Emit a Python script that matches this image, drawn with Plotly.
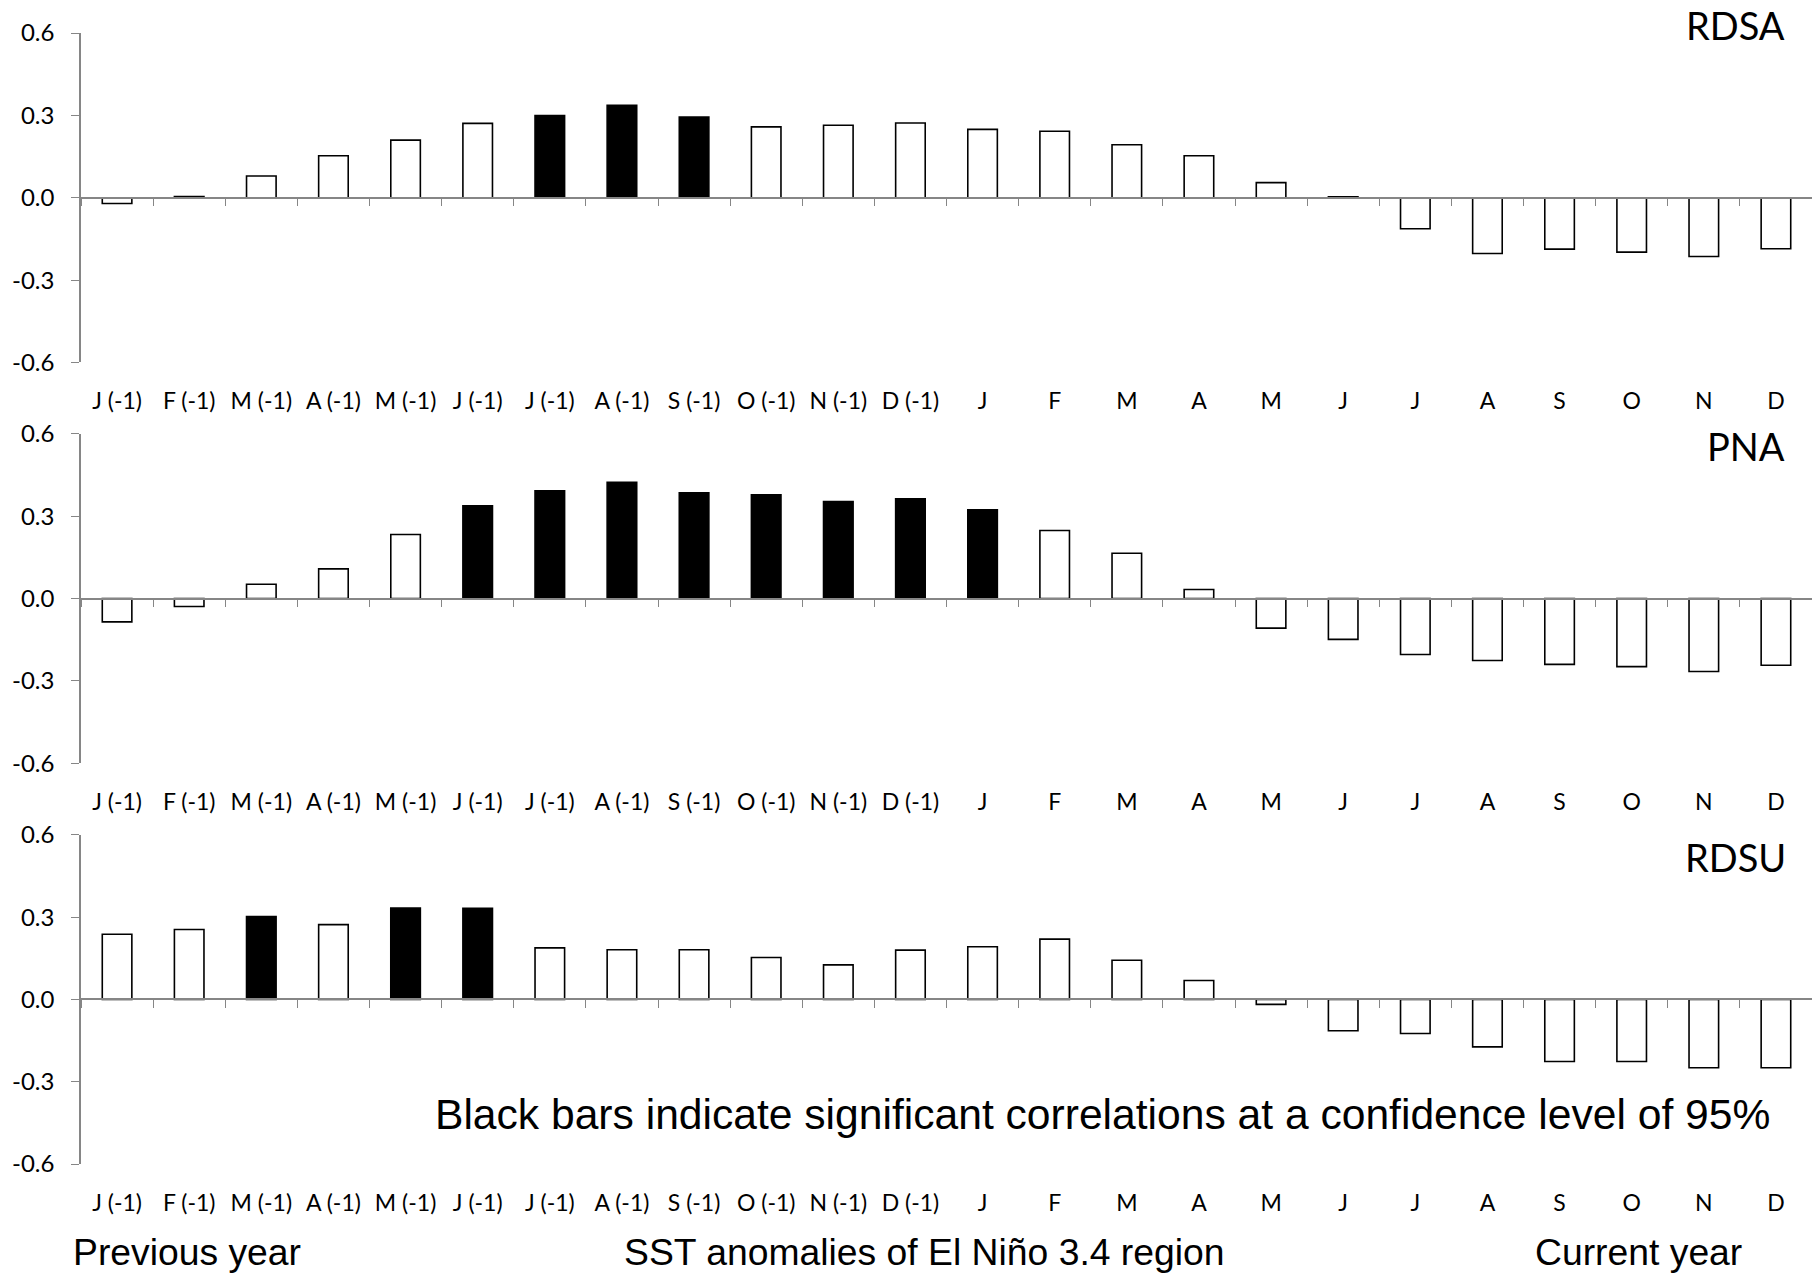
import plotly.graph_objects as go

# ---------------- data ----------------
months = ["J (-1)", "F (-1)", "M (-1)", "A (-1)", "M (-1)", "J (-1)", "J (-1)", "A (-1)",
          "S (-1)", "O (-1)", "N (-1)", "D (-1)",
          "J", "F", "M", "A", "M", "J", "J", "A", "S", "O", "N", "D"]

rdsa = [-0.021, 0.004, 0.079, 0.153, 0.210, 0.271, 0.299, 0.337, 0.294, 0.258, 0.264, 0.272,
        0.249, 0.242, 0.193, 0.153, 0.055, 0.003, -0.113, -0.203, -0.187, -0.198, -0.214, -0.186]
rdsa_sig = [0, 0, 0, 0, 0, 0, 1, 1, 1, 0, 0, 0,
            0, 0, 0, 0, 0, 0, 0, 0, 0, 0, 0, 0]

pna = [-0.085, -0.029, 0.052, 0.108, 0.233, 0.338, 0.392, 0.423, 0.385, 0.378, 0.353, 0.363,
       0.323, 0.248, 0.165, 0.033, -0.108, -0.149, -0.204, -0.226, -0.240, -0.248, -0.266, -0.243]
pna_sig = [0, 0, 0, 0, 0, 1, 1, 1, 1, 1, 1, 1,
           1, 0, 0, 0, 0, 0, 0, 0, 0, 0, 0, 0]

rdsu = [0.238, 0.255, 0.302, 0.273, 0.333, 0.332, 0.188, 0.181, 0.181, 0.153, 0.126, 0.180,
        0.192, 0.220, 0.143, 0.069, -0.018, -0.114, -0.124, -0.173, -0.226, -0.226, -0.249, -0.249]
rdsu_sig = [0, 0, 1, 0, 1, 1, 0, 0, 0, 0, 0, 0,
            0, 0, 0, 0, 0, 0, 0, 0, 0, 0, 0, 0]

panel_names = ["RDSA", "PNA", "RDSU"]
y_tick_vals = [-0.6, -0.3, 0.0, 0.3, 0.6]
y_tick_text = ["-0.6", "-0.3", "0.0", "0.3", "0.6"]
note_text = "Black bars indicate significant correlations at a confidence level of 95%"
bottom_left = "Previous year"
bottom_mid = "SST anomalies of El Niño 3.4 region"
bottom_right = "Current year"

# ---------------- layout geometry (screen pixels; page body margin removed) ----------------
W, H = 1812, 1274
PLOT_L, PLOT_R, PLOT_T, PLOT_B = 81.0, 1812.0, 33.3, 1164.0
ML, MR = PLOT_L, W - PLOT_R
MT, MB = PLOT_T, H - PLOT_B
PW, PH = PLOT_R - PLOT_L, PLOT_B - PLOT_T


def px_x(x):
    return (x - PLOT_L) / PW


def px_y(y):
    return (PLOT_B - y) / PH


panel_px = [(33.3, 362.7), (434.0, 763.3), (835.0, 1164.0)]
domains = [[max(0.0, px_y(b)), min(1.0, px_y(t))] for t, b in panel_px]
title_pos = [(1787.0, 25.0), (1787.0, 446.5), (1787.5, 857.5)]

GRAY = "#868686"
LATO = "Lato, 'Open Sans', sans-serif"
TICK_FONT = dict(family=LATO, size=23, color="black")
YTICK_FONT = dict(family=LATO, size=24, color="black")
ARIAL = "'Liberation Sans', Arial, sans-serif"

series = [(rdsa, rdsa_sig), (pna, pna_sig), (rdsu, rdsu_sig)]
idx = list(range(len(months)))
bounds = [k - 0.5 for k in range(len(months) + 1)]
xrange_ = [-0.5, len(months) - 0.5]

fig = go.Figure()
layout = dict(
    width=W, height=H,
    margin=dict(l=ML, r=MR, t=MT, b=MB, pad=0, autoexpand=False),
    paper_bgcolor="white", plot_bgcolor="white",
    showlegend=False,
    annotations=[],
)

for i, (vals, sig) in enumerate(series):
    n = i + 1
    xk = "xaxis" if n == 1 else f"xaxis{n}"
    x_id = "x" if n == 1 else f"x{n}"
    yk = "yaxis" if n == 1 else f"yaxis{n}"
    y_id = "y" if n == 1 else f"y{n}"
    dom = domains[i]

    fig.add_trace(go.Bar(
        x=idx, y=vals, xaxis=x_id, yaxis=y_id, width=0.41,
        marker=dict(color=["black" if s else "white" for s in sig],
                    line=dict(color="black", width=1.6)),
        hoverinfo="y",
    ))

    # x axis drawn along the zero line; labels pushed down to panel bottom
    layout[xk] = dict(
        anchor="free", position=(dom[0] + dom[1]) / 2, automargin=False,
        range=xrange_, tickmode="array", tickvals=idx, ticktext=months,
        ticks="", tickfont=TICK_FONT, ticklabelstandoff=183,
        minor=dict(tickmode="array", tickvals=bounds, ticks="outside",
                   ticklen=8, tickwidth=1.3, tickcolor=GRAY, showgrid=False),
        showline=True, linecolor=GRAY, linewidth=1.5,
        showgrid=False, zeroline=False, fixedrange=True,
    )
    layout[yk] = dict(
        domain=dom, anchor=x_id, range=[-0.6, 0.6], automargin=False,
        tickmode="array", tickvals=y_tick_vals, ticktext=y_tick_text,
        ticks="outside", ticklen=8, tickwidth=1.3, tickcolor=GRAY,
        showline=True, linecolor=GRAY, linewidth=1.5,
        showgrid=False, zeroline=False, tickfont=YTICK_FONT,
        ticklabelstandoff=12, fixedrange=True,
    )
    tx, ty = title_pos[i]
    layout["annotations"].append(dict(
        text=panel_names[i], xref="paper", yref="paper", x=px_x(tx), y=px_y(ty),
        xanchor="right", yanchor="middle", showarrow=False,
        font=dict(family=LATO, size=38, color="black"),
    ))

layout["annotations"].append(dict(
    text=note_text, xref="paper", yref="paper", x=px_x(433), y=px_y(1114),
    xanchor="left", yanchor="middle", showarrow=False,
    font=dict(family=ARIAL, size=42.6, color="black"),
))
for txt, lx in [(bottom_left, 71), (bottom_mid, 622), (bottom_right, 1533)]:
    layout["annotations"].append(dict(
        text=txt, xref="paper", yref="paper", x=px_x(lx), y=px_y(1251.5),
        xanchor="left", yanchor="middle", showarrow=False,
        font=dict(family=ARIAL, size=37.3, color="black"),
    ))

fig.update_layout(**layout)
fig.write_html(
    "out.html",
    config={"displayModeBar": False, "staticPlot": False},
    post_script="document.body.style.margin='0';document.body.style.overflow='hidden';",
)
